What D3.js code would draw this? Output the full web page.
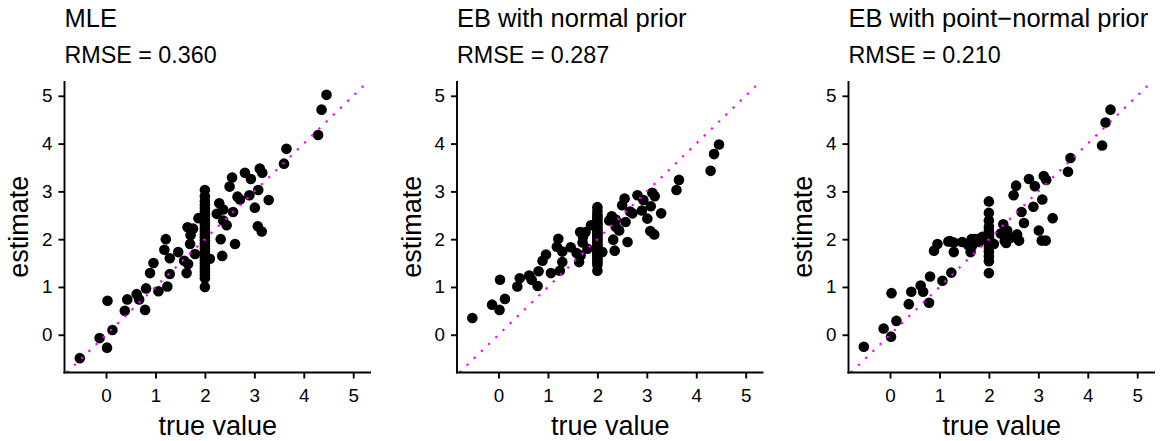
<!DOCTYPE html>
<html>
<head>
<meta charset="utf-8">
<script src="https://cdn.jsdelivr.net/npm/d3@7"></script>
<style>
  html, body { margin: 0; padding: 0; background: #fff; }
  svg { display: block; font-family: "Liberation Sans", Arial, Helvetica, sans-serif; }
</style>
</head>
<body>
<svg id="chart" width="1161" height="441"></svg>
<script>
// ---- data ----
const trueValue = [
  -0.53, -0.13, 0.02, 0.13, 0.03, 0.38, 0.43, 0.62, 0.67, 0.79,
  0.81, 0.89, 0.96, 1.06, 1.24, 1.21, 1.18, 1.29, 1.29, 1.46,
  1.58, 1.63, 1.65, 1.76, 1.70, 1.87, 1.71, 2.10, 2.24, 2.29,
  2.37, 2.44, 2.32, 2.35, 2.37, 2.50, 2.55, 2.57, 2.61, 2.66,
  2.71, 2.81, 2.90, 2.93, 3.01, 3.08, 3.11, 3.16, 3.07, 3.15,
  3.29, 3.60, 3.65, 4.29, 4.36, 4.46, 1.80, 1.66,
  2, 2, 2, 2, 2, 2, 2, 2, 2, 2, 2, 2, 2, 2, 2,
  2, 2, 2, 2, 2, 2, 2, 2, 2, 2, 2, 2, 2, 2, 2
];
const mleEstimate = [
  -0.49, -0.07, -0.27, 0.10, 0.71, 0.50, 0.74, 0.85, 0.74, 0.52,
  0.97, 1.29, 1.50, 0.91, 1.01, 2.00, 1.78, 1.60, 1.27, 1.73,
  1.55, 1.29, 2.25, 2.22, 1.90, 2.44, 2.08, 1.59, 2.53, 2.75,
  2.62, 2.29, 2.00, 1.65, 2.39, 3.10, 3.29, 2.57, 1.90, 2.89,
  2.83, 3.39, 2.92, 3.26, 2.66, 3.03, 3.48, 3.39, 2.27, 2.16,
  2.82, 3.58, 3.89, 4.18, 4.71, 5.02, 1.69, 1.48,
  3.03, 2.90, 2.80, 2.72, 2.65, 2.58, 2.52, 2.46, 2.40, 2.34, 2.28, 2.22, 2.16, 2.10, 2.04,
  1.98, 1.92, 1.86, 1.80, 1.74, 1.68, 1.62, 1.56, 1.50, 1.44, 1.38, 1.32, 1.25, 1.18, 1.00
];
const ebNormalEstimate = [
  0.35, 0.63, 0.52, 0.75, 1.15, 1.01, 1.18, 1.24, 1.15, 1.02,
  1.33, 1.55, 1.68, 1.29, 1.34, 2.01, 1.84, 1.74, 1.52, 1.83,
  1.71, 1.52, 2.15, 2.15, 1.93, 2.29, 2.05, 1.73, 2.39, 2.48,
  2.41, 2.18, 1.99, 1.76, 2.26, 2.71, 2.85, 2.36, 1.94, 2.58,
  2.54, 2.92, 2.60, 2.82, 2.43, 2.69, 2.97, 2.90, 2.17, 2.10,
  2.54, 3.03, 3.24, 3.43, 3.78, 3.98, 1.80, 1.66,
  2.67, 2.59, 2.52, 2.47, 2.43, 2.38, 2.34, 2.30, 2.26, 2.22, 2.18, 2.14, 2.10, 2.07, 2.03,
  1.99, 1.95, 1.91, 1.87, 1.83, 1.79, 1.75, 1.71, 1.67, 1.63, 1.59, 1.55, 1.51, 1.46, 1.34
];
const ebPointNormalEstimate = [
  -0.25, 0.13, -0.04, 0.29, 0.87, 0.64, 0.90, 1.03, 0.90, 0.67,
  1.22, 1.76, 1.90, 1.13, 1.30, 1.96, 1.95, 1.93, 1.73, 1.94,
  1.88, 1.73, 2.00, 2.00, 1.97, 2.05, 2.00, 1.90, 2.12, 2.31,
  2.18, 2.03, 1.96, 1.92, 2.08, 2.92, 3.12, 2.10, 1.97, 2.57,
  2.34, 3.26, 2.68, 3.11, 2.18, 2.83, 3.32, 3.24, 1.97, 1.97,
  2.44, 3.41, 3.70, 3.96, 4.44, 4.71, 1.94, 1.86,
  2.79, 2.55, 2.39, 2.26, 2.18, 2.12, 2.08, 2.05, 2.03, 2.02, 2.01, 2.01, 2.00, 2.00, 2.00,
  2.00, 2.00, 2.00, 1.99, 1.99, 1.98, 1.97, 1.95, 1.92, 1.88, 1.82, 1.74, 1.64, 1.54, 1.29
];
const panelTitles = ["MLE", "EB with normal prior", "EB with point\u2212normal prior"];
const rmseLabels = ["RMSE = 0.360", "RMSE = 0.287", "RMSE = 0.210"];
const tickValues = [0, 1, 2, 3, 4, 5];
const xAxisTitle = "true value";
const yAxisTitle = "estimate";

// ---- layout ----
const svg = d3.select("#chart");
const panelLefts = [64.5, 457, 848.5];
const panelW = 306.5;
const panelTop = 81, panelBottom = 372.5;
const xDomain = [-0.84, 5.36];
const yDomain = [-0.79, 5.31];
const estimates = [mleEstimate, ebNormalEstimate, ebPointNormalEstimate];
const FONT = '"Liberation Sans", Arial, Helvetica, sans-serif';
const fmt = d3.format("d");

estimates.forEach((est, i) => {
  const left = panelLefts[i];
  const x = d3.scaleLinear().domain(xDomain).range([left, left + panelW]);
  const y = d3.scaleLinear().domain(yDomain).range([panelBottom, panelTop]);
  const g = svg.append("g");

  // titles
  g.append("text").attr("x", left).attr("y", 27)
    .attr("font-size", 25.5).attr("fill", "#000").text(panelTitles[i]);
  g.append("text").attr("x", left).attr("y", 63)
    .attr("font-size", 23.3).attr("fill", "#000").text(rmseLabels[i]);

  // clip for panel
  const clipId = "clip" + i;
  svg.append("clipPath").attr("id", clipId).append("rect")
    .attr("x", left).attr("y", panelTop).attr("width", panelW).attr("height", panelBottom - panelTop);

  // points
  const data = trueValue.map((t, k) => [t, est[k]]);
  g.append("g").selectAll("circle").data(data).join("circle")
    .attr("cx", d => x(d[0])).attr("cy", d => y(d[1])).attr("r", 5.3)
    .attr("fill", "#000");

  // y = x dotted line
  const lo = Math.max(xDomain[0], yDomain[0]);
  const hi = Math.min(xDomain[1], yDomain[1]);
  g.append("line").attr("clip-path", `url(#${clipId})`)
    .attr("x1", x(lo)).attr("y1", y(lo)).attr("x2", x(hi)).attr("y2", y(hi))
    .attr("stroke", "#FF00FF").attr("stroke-width", 2.2)
    .attr("stroke-dasharray", "2.2 7.8");

  // axes
  const xAxis = d3.axisBottom(x).tickValues(tickValues).tickFormat(fmt)
    .tickSize(6).tickPadding(10).tickSizeOuter(0);
  const yAxis = d3.axisLeft(y).tickValues(tickValues).tickFormat(fmt)
    .tickSize(6).tickPadding(6).tickSizeOuter(0);
  const gx = g.append("g").attr("transform", `translate(0,${panelBottom})`).call(xAxis);
  const gy = g.append("g").attr("transform", `translate(${left},0)`).call(yAxis);
  [gx, gy].forEach(a => {
    a.attr("font-size", 18.8).attr("font-family", FONT);
    a.select(".domain").attr("stroke", "#000").attr("stroke-width", 1.9);
    a.selectAll(".tick line").attr("stroke", "#000").attr("stroke-width", 1.9);
    a.selectAll(".tick text").attr("fill", "#000");
  });
  gx.select(".domain").attr("d", `M${left - 1},0H${left + panelW}`);
  gy.select(".domain").attr("d", `M0,${panelTop}V${panelBottom + 1}`);

  // axis titles
  g.append("text").attr("x", left + panelW / 2).attr("y", 435)
    .attr("text-anchor", "middle").attr("font-size", 27).attr("fill", "#000")
    .text(xAxisTitle);
  g.append("text")
    .attr("transform", `translate(${left - 36.5},${(panelTop + panelBottom) / 2}) rotate(-90)`)
    .attr("text-anchor", "middle").attr("font-size", 27).attr("fill", "#000")
    .text(yAxisTitle);
});
</script>
</body>
</html>
